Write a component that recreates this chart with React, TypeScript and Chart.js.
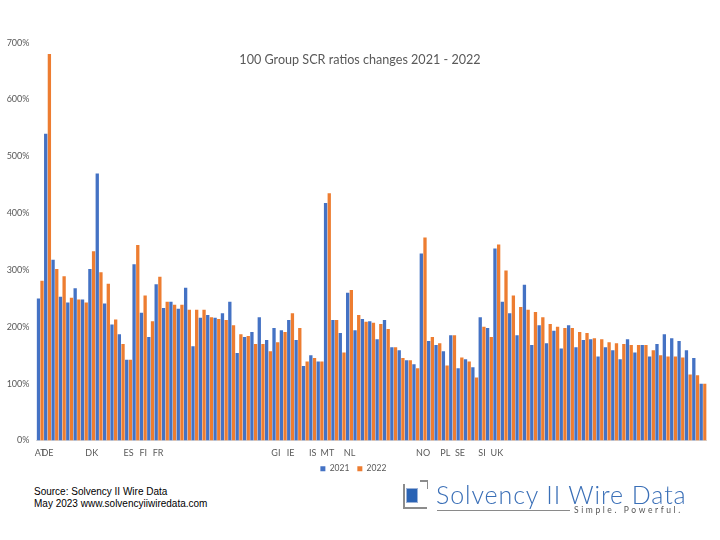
import React, { useEffect, useRef } from "react";
import { Chart, registerables } from "chart.js";

Chart.register(...registerables);

// Category label positions (1-based group index) and the country codes shown there
const labelPositions = [1, 2, 8, 13, 15, 17, 33, 35, 38, 40, 43, 53, 56, 58, 61, 63];
const labelCodes = ["AT", "DE", "DK", "ES", "FI", "FR", "GI", "IE", "IS", "MT", "NL", "NO", "PL", "SE", "SI", "UK"];

// SCR ratios (%) per group
const ratios2021 = [
  250, 540, 318, 253, 243, 268, 248, 302, 470, 241,
  204, 187, 142, 310, 225, 182, 275, 233, 244, 232,
  269, 166, 216, 221, 216, 224, 244, 154, 182, 191,
  217, 177, 198, 194, 212, 177, 131, 150, 139, 418,
  212, 189, 260, 194, 214, 210, 178, 212, 164, 159,
  141, 134, 329, 175, 168, 157, 185, 127, 143, 129,
  217, 198, 338, 244, 224, 185, 274, 168, 203, 171,
  193, 162, 203, 164, 177, 178, 148, 164, 159, 143,
  178, 155, 168, 148, 170, 187, 180, 175, 159, 145,
  100,
];
const ratios2022 = [
  281, 680, 302, 289, 251, 248, 243, 333, 296, 276,
  213, 170, 142, 344, 255, 210, 288, 244, 239, 239,
  230, 230, 230, 217, 214, 212, 203, 187, 184, 170,
  170, 157, 173, 191, 224, 198, 139, 145, 139, 435,
  212, 155, 265, 221, 209, 207, 205, 196, 164, 145,
  141, 127, 357, 182, 171, 132, 185, 146, 139, 111,
  200, 182, 345, 299, 255, 235, 230, 226, 217, 205,
  200, 198, 198, 191, 189, 180, 178, 173, 171, 170,
  168, 168, 168, 159, 150, 148, 148, 146, 116, 115,
  100,
];

const seriesNames = ["2021", "2022"];
const seriesColors = ["#4472C4", "#ED7D31"];
const yMax = 700;
const yStep = 100;

const tickFont = { family: "Lato", size: 9 };
const legendFont = { family: "Lato", size: 8.5 };
const tickColor = "#595959";

export default function App() {
  const canvasRef = useRef<HTMLCanvasElement | null>(null);

  useEffect(() => {
    const categories = ratios2021.map((_, i) => {
      const k = labelPositions.indexOf(i + 1);
      return k >= 0 ? labelCodes[k] : "";
    });
    const chart = new Chart(canvasRef.current as HTMLCanvasElement, {
      type: "bar",
      data: {
        labels: categories,
        datasets: [
          {
            label: seriesNames[0],
            data: ratios2021,
            backgroundColor: seriesColors[0],
            barPercentage: 0.9,
            categoryPercentage: 1,
          },
          {
            label: seriesNames[1],
            data: ratios2022,
            backgroundColor: seriesColors[1],
            barPercentage: 0.9,
            categoryPercentage: 1,
          },
        ],
      },
      options: {
        animation: false,
        responsive: false,
        maintainAspectRatio: false,
        layout: { padding: { top: 42.7, right: 13.3, left: 0, bottom: 0 } },
        plugins: {
          title: { display: false },
          tooltip: { enabled: false },
          legend: {
            position: "bottom",
            labels: {
              boxWidth: 5,
              boxHeight: 5,
              padding: 8,
              font: legendFont,
              color: tickColor,
            },
          },
        },
        scales: {
          x: {
            grid: { display: false, drawTicks: false },
            border: { display: true, color: "#D9D9D9", width: 1 },
            ticks: {
              autoSkip: false,
              maxRotation: 0,
              minRotation: 0,
              padding: 7,
              font: tickFont,
              color: tickColor,
            },
            afterFit: (s: any) => {
              s.height = 16;
            },
          },
          y: {
            min: 0,
            max: yMax,
            grid: { display: false, drawTicks: false },
            border: { display: false },
            ticks: {
              stepSize: yStep,
              padding: 7,
              font: tickFont,
              color: tickColor,
              callback: (v: any) => v + "%",
            },
            afterFit: (s: any) => {
              s.width = 36.5;
            },
          },
        },
      },
    });
    return () => chart.destroy();
  }, []);

  return (
    <div
      style={{
        position: "absolute",
        left: 0,
        top: 0,
        width: 720,
        height: 540,
        background: "#ffffff",
        overflow: "hidden",
      }}
    >
      <canvas
        ref={canvasRef}
        width={720}
        height={483}
        style={{ position: "absolute", left: 0, top: 0, width: 720, height: 483 }}
      />
      <div
        style={{
          position: "absolute",
          left: 0,
          top: 51,
          width: 720,
          textAlign: "center",
          fontFamily: "Lato",
          fontSize: 12.6,
          lineHeight: "18px",
          color: "#595959",
        }}
      >
        100 Group SCR ratios changes 2021 - 2022
      </div>
      <div
        style={{
          position: "absolute",
          left: 34,
          top: 486,
          fontFamily: "'Liberation Sans', Arial, sans-serif",
          fontSize: 10,
          lineHeight: "11.6px",
          color: "#000000",
        }}
      >
        <div>Source: Solvency II Wire Data</div>
        <div>May 2023 www.solvencyiiwiredata.com</div>
      </div>
      {/* logo */}
      <div style={{ position: "absolute", left: 403, top: 484, width: 1.5, height: 24, background: "#8c8c8c" }} />
      <div style={{ position: "absolute", left: 403, top: 507, width: 24, height: 1.5, background: "#8c8c8c" }} />
      <div style={{ position: "absolute", left: 420, top: 480, width: 8, height: 1.5, background: "#8c8c8c" }} />
      <div style={{ position: "absolute", left: 426.5, top: 480, width: 1.5, height: 9, background: "#8c8c8c" }} />
      <div
        style={{
          position: "absolute",
          left: 405.5,
          top: 488,
          width: 12,
          height: 15,
          background: "#2a63b4",
          border: "1px solid #9bb2d8",
          boxSizing: "border-box",
        }}
      />
      <div
        style={{
          position: "absolute",
          left: 436,
          top: 482,
          fontFamily: "Lato",
          fontWeight: 300,
          fontSize: 25,
          lineHeight: "25px",
          letterSpacing: "0.9px",
          color: "#3a6fb7",
          whiteSpace: "nowrap",
        }}
      >
        Solvency II Wire Data
      </div>
      <div style={{ position: "absolute", left: 437, top: 510, width: 133, height: 1, background: "#8a8a8a" }} />
      <div
        style={{
          position: "absolute",
          left: 574,
          top: 505,
          fontFamily: "Lato",
          fontSize: 8.5,
          lineHeight: "10px",
          letterSpacing: "2.6px",
          color: "#555555",
          whiteSpace: "nowrap",
        }}
      >
        Simple. Powerful.
      </div>
    </div>
  );
}
